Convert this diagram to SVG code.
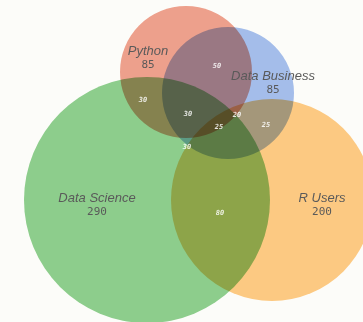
<svg xmlns="http://www.w3.org/2000/svg" width="363" height="322" viewBox="0 0 363 322">
<style>
.set{mix-blend-mode:multiply}
.name{font-family:"Liberation Sans",Arial,sans-serif;font-style:italic;font-size:13px;fill:#5a5a5a;text-anchor:middle}
.cnt{font-family:"DejaVu Sans Mono",monospace;font-size:11px;fill:#5a5a5a;text-anchor:middle}
.num{font-family:"DejaVu Sans Mono",monospace;font-style:italic;font-weight:bold;font-size:7px;fill:#ffffff;fill-opacity:0.85;text-anchor:middle}
</style>
<rect width="363" height="322" fill="#fcfcf9"/>
<g id="sets">
<g id="data-science"><circle class="set" cx="147" cy="200" r="123" fill="#8fd08f"/></g>
<g id="r-users"><circle class="set" cx="272" cy="200" r="101" fill="#ffcc85"/></g>
<g id="data-business"><circle class="set" cx="228" cy="93" r="66" fill="#a6c0f0"/></g>
<g id="python"><circle class="set" cx="186" cy="72" r="66" fill="#f0a28f"/></g>
</g>
<g id="connectors"></g>
<g id="labels">
<text class="name" x="148" y="55">Python</text>
<text class="cnt" x="148" y="68">85</text>
<text class="name" x="273" y="80">Data Business</text>
<text class="cnt" x="273" y="93">85</text>
<text class="name" x="97" y="202">Data Science</text>
<text class="cnt" x="97" y="215">290</text>
<text class="name" x="322" y="202">R Users</text>
<text class="cnt" x="322" y="215">200</text>
</g>
<g id="region-values">
<text class="num" x="217" y="68">50</text>
<text class="num" x="143" y="102">30</text>
<text class="num" x="188" y="116">30</text>
<text class="num" x="237" y="117">20</text>
<text class="num" x="219" y="129">25</text>
<text class="num" x="266" y="127">25</text>
<text class="num" x="187" y="149">30</text>
<text class="num" x="220" y="215">80</text>
</g>
</svg>
